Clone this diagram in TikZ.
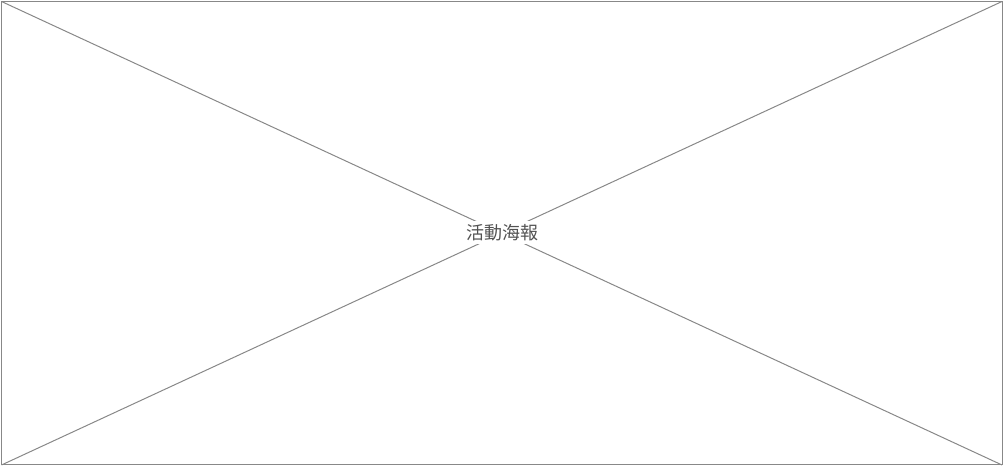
\documentclass[tikz,border=0pt]{standalone}
\usepackage{fontspec}
\newfontfamily\cjk{Noto Sans CJK TC}
\definecolor{framegray}{HTML}{888888}
\begin{document}
\begin{tikzpicture}[x=1pt,y=1pt,
  edge/.style={draw=framegray,line width=1pt},
  label/.style={fill=white,inner sep=0pt,minimum height=23pt,minimum width=60pt,text=framegray!60!black,font=\cjk\fontsize{18pt}{20pt}\selectfont}]
\useasboundingbox (0,0) rectangle (1004,468);
\coordinate (tl) at (1.5,466.5);
\coordinate (tr) at (1002,466.5);
\coordinate (bl) at (1.5,3);
\coordinate (br) at (1002,3);
\draw[edge] (tl) rectangle (br);
\draw[edge] (tl) -- (br);
\draw[edge] (bl) -- (tr);
\node[label] (t) at (502,235.5) {活動海報};
\end{tikzpicture}
\end{document}
